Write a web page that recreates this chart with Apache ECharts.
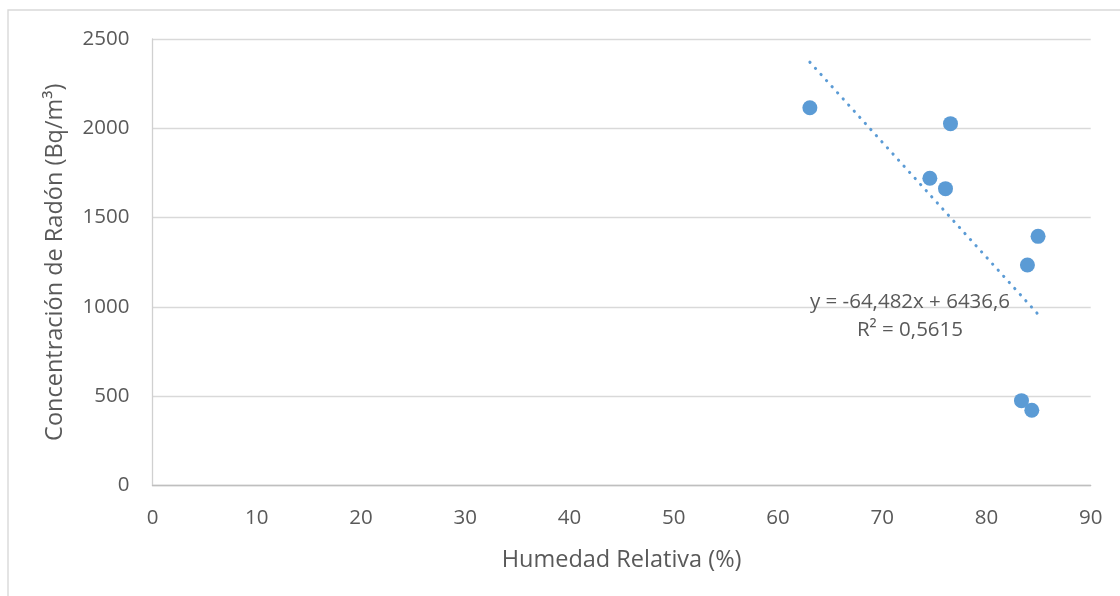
<!DOCTYPE html>
<html>
<head>
<meta charset="utf-8">
<script src="https://cdn.jsdelivr.net/npm/echarts@6/dist/echarts.min.js"></script>
<style>
  html, body { margin: 0; padding: 0; background: #ffffff; }
  #chart { width: 1120px; height: 596px; }
</style>
</head>
<body>
<div id="chart"></div>
<script>
// Relative humidity (%) vs. radon concentration (Bq/m³)
const humedad = [63.06, 74.57, 76.07, 76.55, 83.36, 83.93, 84.35, 84.95];
const radon   = [2115, 1720, 1662, 2026, 475, 1235, 421, 1395];

// Linear trend line reported on the chart
const pendiente = -64.482;
const intercepto = 6436.6;
const r2 = 0.5615;

const xTicks = { min: 0, max: 90, interval: 10 };
const yTicks = { min: 0, max: 2500, interval: 500 };

const fmt = (v, d) => v.toFixed(d).replace('.', ',');

const puntos = humedad.map((h, i) => [h, radon[i]]);
const xMin = Math.min(...humedad);
const xMax = Math.max(...humedad);
const tendencia = [xMin, xMax].map(x => [x, pendiente * x + intercepto]);

const ecuacion = 'y = ' + fmt(pendiente, 3) + 'x + ' + fmt(intercepto, 1);
const r2Texto = 'R² = ' + fmt(r2, 4);

const FONT = '"Open Sans", sans-serif';
const GRAY = '#595959';

const chart = echarts.init(document.getElementById('chart'), null, { renderer: 'canvas' });

chart.setOption({
  animation: false,
  backgroundColor: '#ffffff',
  grid: { left: 152.5, right: 29.3, top: 39, bottom: 110.5, containLabel: false },
  xAxis: {
    type: 'value',
    min: xTicks.min, max: xTicks.max, interval: xTicks.interval,
    name: 'Humedad Relativa (%)',
    nameLocation: 'middle',
    nameGap: 74.5,
    nameTextStyle: { fontFamily: FONT, fontSize: 23.5, color: GRAY, verticalAlign: 'middle' },
    axisLine: { show: true, onZero: false, lineStyle: { color: '#bfbfbf', width: 1.3 } },
    axisTick: { show: false },
    splitLine: { show: false },
    axisLabel: { fontFamily: FONT, fontSize: 20.5, color: GRAY, margin: 22, formatter: v => String(v) }
  },
  yAxis: {
    type: 'value',
    min: yTicks.min, max: yTicks.max, interval: yTicks.interval,
    name: 'Concentración de Radón (Bq/m³)',
    nameLocation: 'middle',
    nameRotate: 90,
    nameGap: 97.5,
    nameTextStyle: { fontFamily: FONT, fontSize: 23.5, color: GRAY, verticalAlign: 'middle' },
    axisLine: { show: true, lineStyle: { color: '#d0d0d0', width: 1.3 } },
    axisTick: { show: false },
    splitLine: { show: true, lineStyle: { color: '#d9d9d9', width: 1.3 } },
    axisLabel: { fontFamily: FONT, fontSize: 20.5, color: GRAY, margin: 23, formatter: v => String(v) }
  },
  series: [
    {
      type: 'line',
      data: tendencia,
      symbol: 'none',
      silent: true,
      z: 1,
      lineStyle: { color: '#5b9bd5', width: 3, type: [0.3, 7.95], cap: 'round' }
    },
    {
      type: 'scatter',
      data: puntos,
      symbol: 'circle',
      symbolSize: 15,
      z: 2,
      itemStyle: { color: '#5b9bd5', opacity: 1 }
    }
  ],
  graphic: [
    {
      type: 'rect',
      silent: true,
      shape: { x: 8, y: 10, width: 1130, height: 600 },
      style: { fill: 'none', stroke: '#d9d9d9', lineWidth: 1.4 }
    },
    {
      type: 'text',
      silent: true,
      x: 910, y: 301.7,
      z: 10,
      style: { text: ecuacion, fontFamily: FONT, fontSize: 20.5, fill: GRAY, align: 'center', verticalAlign: 'middle' }
    },
    {
      type: 'text',
      silent: true,
      x: 910, y: 330,
      z: 10,
      style: { text: r2Texto, fontFamily: FONT, fontSize: 20.5, fill: GRAY, align: 'center', verticalAlign: 'middle' }
    }
  ]
});
</script>
</body>
</html>
